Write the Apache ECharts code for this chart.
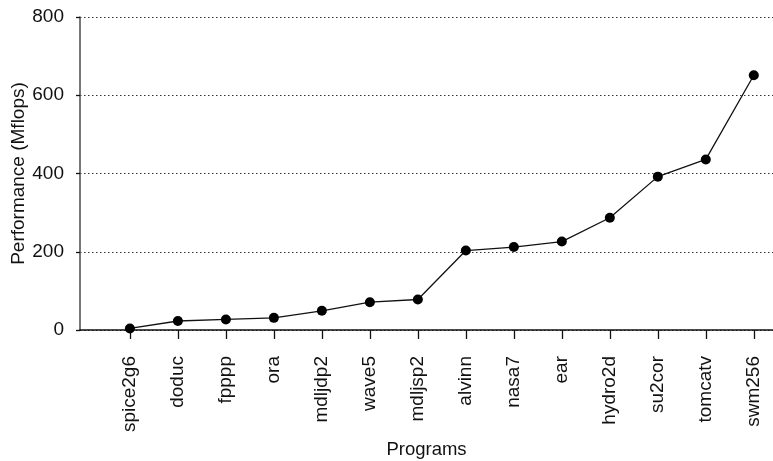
<!DOCTYPE html>
<html>
<head>
<meta charset="utf-8">
<script src="https://cdn.jsdelivr.net/npm/echarts@6/dist/echarts.min.js"></script>
<style>
html,body{margin:0;padding:0;background:#fff;}
#chart{width:773px;height:461px;}
</style>
</head>
<body>
<div id="chart"></div>
<script>
const programs = ['spice2g6','doduc','fpppp','ora','mdljdp2','wave5','mdljsp2','alvinn','nasa7','ear','hydro2d','su2cor','tomcatv','swm256'];
const mflops = [4, 23, 27, 31, 49, 71, 78, 203, 212, 226, 287, 392, 436, 651];
const yTicks = [0, 200, 400, 600, 800];

const font = '"Liberation Sans", Arial, Helvetica, sans-serif';
const idx = programs.map((_, i) => i);
const chart = echarts.init(document.getElementById('chart'));
chart.setOption({
  animation: false,
  backgroundColor: '#ffffff',
  grid: { left: 80, right: 0, top: 17, bottom: 131, containLabel: false, outerBoundsMode: 'none' },
  xAxis: {
    type: 'value',
    min: -1.04,
    max: 13.4,
    name: 'Programs',
    nameLocation: 'middle',
    nameGap: 110,
    nameMoveOverlap: false,
    nameTextStyle: { fontFamily: font, fontSize: 18.5, color: '#111' },
    axisLine: { show: true, onZero: false, lineStyle: { color: '#111', width: 1.6 } },
    axisTick: { show: true, customValues: idx, length: 9, lineStyle: { color: '#111', width: 1.3 } },
    axisLabel: {
      customValues: idx,
      rotate: 90,
      margin: 26,
      fontFamily: font,
      fontSize: 19,
      color: '#111',
      formatter: v => programs[Math.round(v)] || ''
    },
    splitLine: { show: false }
  },
  yAxis: {
    type: 'value',
    min: yTicks[0],
    max: yTicks[yTicks.length - 1],
    interval: 200,
    name: 'Performance (Mflops)',
    nameLocation: 'middle',
    nameGap: 52,
    nameMoveOverlap: false,
    nameTextStyle: { fontFamily: font, fontSize: 19, color: '#111' },
    axisLine: { show: true, onZero: false, lineStyle: { color: '#555', width: 1.6 } },
    axisTick: { show: true, length: 4, lineStyle: { color: '#111', width: 1.3 } },
    axisLabel: { margin: 16, fontFamily: font, fontSize: 19, color: '#111' },
    splitLine: { show: true, lineStyle: { color: '#333', type: [1.5, 2.5], width: 1 } }
  },
  series: [{
    type: 'line',
    data: mflops.map((v, i) => [i, v]),
    symbol: 'circle',
    symbolSize: 10,
    itemStyle: { color: '#000' },
    lineStyle: { color: '#111', width: 1.3 },
    z: 5
  }]
});
</script>
</body>
</html>
